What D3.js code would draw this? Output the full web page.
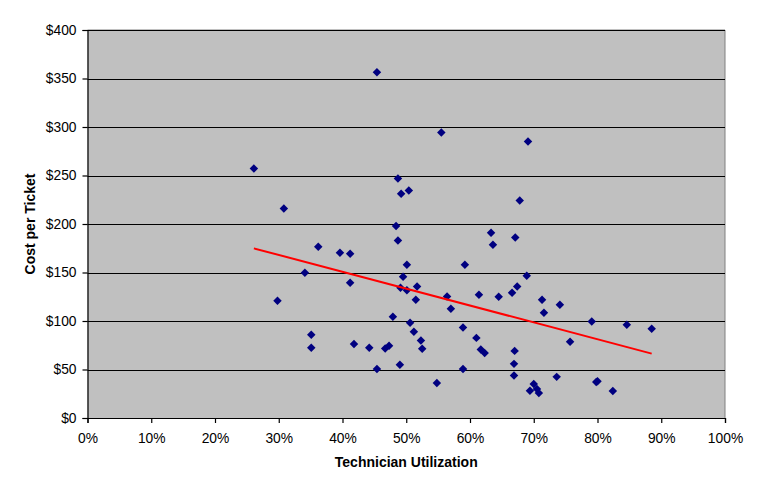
<!DOCTYPE html>
<html><head><meta charset="utf-8">
<script src="https://cdn.jsdelivr.net/npm/d3@7"></script>
<style>body{margin:0;background:#fff}svg{display:block}</style>
</head><body>
<svg id="c" width="764" height="494"></svg>
<script>
const utilization = [26.1,30.8,29.8,34.1,36.2,35.1,35.1,39.6,41.2,41.2,41.8,44.2,45.4,45.4,46.7,47.3,47.9,48.4,48.7,48.7,49.0,49.1,49.2,50.4,49.5,50.1,50.1,50.6,51.2,51.5,51.7,52.3,52.5,54.8,55.5,56.4,57.0,58.9,58.9,59.2,61.0,61.4,61.7,62.3,63.3,63.6,64.5,66.6,66.9,66.9,67.0,67.1,67.4,67.8,68.9,69.1,69.4,70.0,70.5,70.8,71.3,71.6,73.6,74.1,75.7,79.1,79.8,80.0,82.4,84.6,88.5];
const cost = [257.2,216,120.9,149.8,176.6,85.7,72.3,170.4,169.4,139.5,76.4,72.3,356.4,50.6,71.6,74.4,104.3,198,246.9,183,54.8,134.3,231.3,234.5,145.7,158,131.8,98.1,89,121.9,135.6,80,71.3,36.2,294.4,125.3,112.6,93.2,50.6,158,82.6,127,70.6,67.1,191.1,178.7,125,129.1,55.8,43.7,69.2,186,135.6,224.2,146.7,285.1,28.2,35.1,30,25.8,121.9,108.5,42.4,116.7,78.5,99.5,37.2,38,27.9,96.1,91.9];
const trendX = [26.1, 88.5];
const trendY = [174.9, 66.4];
const xTicks = [0,10,20,30,40,50,60,70,80,90,100];
const yTicks = [0,50,100,150,200,250,300,350,400];

const svg = d3.select("#c");
const L = 87.5, R = 725, T = 30, B = 418;
const x = d3.scaleLinear().domain([0,100]).range([L,R]);
const y = d3.scaleLinear().domain([0,400]).range([B,T]);
const font = "Arial, 'Liberation Sans', sans-serif";

svg.append("rect").attr("x",L).attr("y",T).attr("width",R-L).attr("height",B-T).attr("fill","#C0C0C0");
svg.append("path").attr("d",`M${L},${T}H${R}V${B}`).attr("fill","none").attr("stroke","#808080").attr("stroke-width",1);

svg.append("g").selectAll("line").data(yTicks.filter(d=>d>0)).join("line")
  .attr("x1",L).attr("x2",R).attr("y1",d=>Math.round(y(d))+0.5).attr("y2",d=>Math.round(y(d))+0.5)
  .attr("stroke","#000").attr("stroke-width",1);

const yAxis = svg.append("g").attr("transform",`translate(${L},0)`)
  .call(d3.axisLeft(y).tickValues(yTicks).tickSize(5).tickPadding(6).tickFormat(d=>"$"+d));
const xAxis = svg.append("g").attr("transform",`translate(0,${B})`)
  .call(d3.axisBottom(x).tickValues(xTicks).tickSize(5).tickPadding(10).tickFormat(d=>d+"%"));
[yAxis,xAxis].forEach(g=>{
  g.selectAll("path,line").attr("stroke","#000").attr("stroke-width",1.2);
  g.selectAll("text").attr("font-family",font).attr("font-size",13.8).attr("fill","#000");
});

const pts = utilization.map((u,i)=>({u, c:cost[i]}));
svg.append("g").selectAll("path").data(pts).join("path")
  .attr("d", d3.symbol(d3.symbolDiamond2, 46))
  .attr("transform", d=>`translate(${x(d.u)},${y(d.c)})`)
  .attr("fill","#000080");

const line = d3.line().x(d=>x(d[0])).y(d=>y(d[1]));
svg.append("path").datum(trendX.map((t,i)=>[t,trendY[i]]))
  .attr("d",line).attr("stroke","#FF0000").attr("stroke-width",2).attr("fill","none");

svg.append("text").attr("x",(L+R)/2).attr("y",467).attr("text-anchor","middle")
  .attr("font-family",font).attr("font-weight","bold").attr("font-size",14).text("Technician Utilization");
svg.append("text").attr("transform",`translate(35,${(T+B)/2}) rotate(-90)`).attr("text-anchor","middle")
  .attr("font-family",font).attr("font-weight","bold").attr("font-size",14).text("Cost per Ticket");
</script>
</body></html>
